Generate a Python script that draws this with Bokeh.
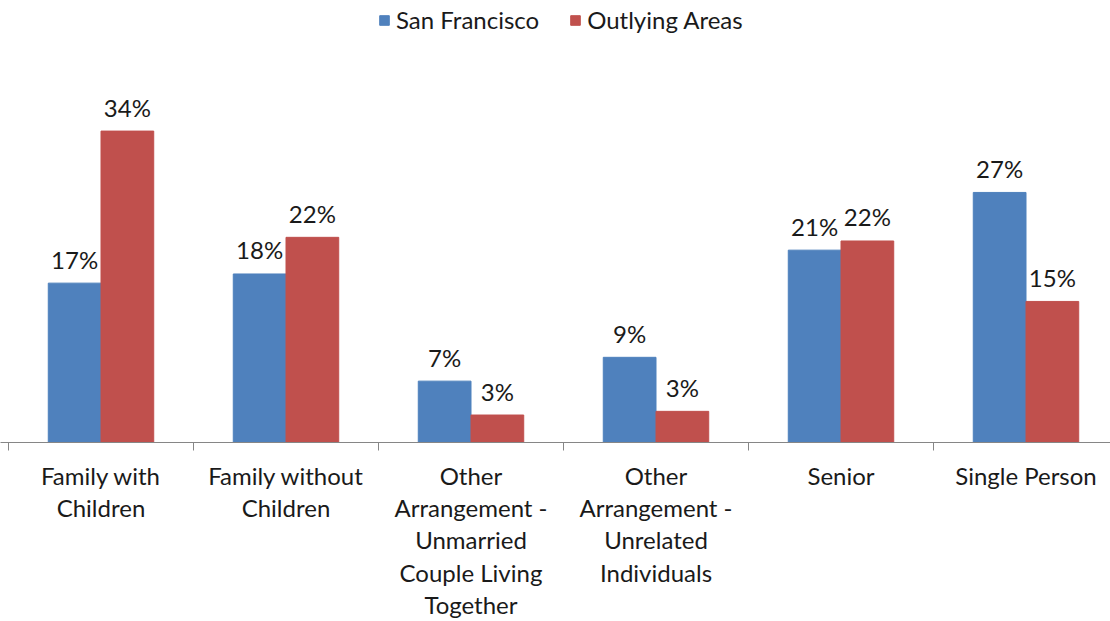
from bokeh.plotting import figure
from bokeh.models import ColumnDataSource, Range1d, FixedTicker, Legend, LegendItem
from bokeh.core.properties import value
from bokeh.embed import file_html
from bokeh.resources import INLINE

# ---- data ----
categories = [
    "Family with\nChildren",
    "Family without\nChildren",
    "Other\nArrangement -\nUnmarried\nCouple Living\nTogether",
    "Other\nArrangement -\nUnrelated\nIndividuals",
    "Senior",
    "Single Person",
]
san_francisco = [17.4, 18.4, 6.7, 9.3, 21.0, 27.3]
outlying_areas = [34.0, 22.4, 3.0, 3.4, 22.0, 15.4]
series_names = ["San Francisco", "Outlying Areas"]
series_colors = ["#4F81BD", "#C0504D"]

FONT = "Lato"
TEXT_COLOR = "#1a1a1a"

W, H = 1110, 621
CAT_PX = 185.0
LEFT_PX = 8.0
PX_PER_UNIT = 9.18
BOTTOM = 178

n = len(categories)
centers = [i + 0.5 for i in range(n)]
bar_w = 0.285

p = figure(
    width=W, height=H, output_backend="svg", toolbar_location=None,
    x_range=Range1d(-LEFT_PX / CAT_PX, (W - LEFT_PX) / CAT_PX),
    y_range=Range1d(0, (H - BOTTOM) / PX_PER_UNIT),
    min_border=0, min_border_bottom=BOTTOM,
    y_axis_location=None, outline_line_color=None,
)
p.xgrid.visible = False
p.ygrid.visible = False
p.background_fill_color = "white"
p.border_fill_color = "white"

renderers = []
for k, (vals, name, col) in enumerate(zip([san_francisco, outlying_areas], series_names, series_colors)):
    off = (-0.5 + k) * bar_w
    src = ColumnDataSource(dict(
        x=[c + off for c in centers],
        top=vals,
        label=[f"{round(v)}%" for v in vals],
    ))
    r = p.vbar(x="x", top="top", bottom=0, width=bar_w, source=src,
               fill_color=col, line_color=col, line_width=1)
    renderers.append(r)
    p.text(x="x", y="top", text="label", source=src,
           text_font=value(FONT), text_font_size="24px", text_color=TEXT_COLOR,
           text_align="center", text_baseline="alphabetic", y_offset=-24)

ax = p.xaxis[0]
ax.ticker = FixedTicker(ticks=centers, minor_ticks=list(range(n + 1)))
ax.major_label_overrides = {c: lab for c, lab in zip(centers, categories)}
ax.major_tick_out = 0
ax.major_tick_in = 0
ax.minor_tick_out = 8
ax.minor_tick_in = 0
ax.minor_tick_line_color = "#868686"
ax.axis_line_color = "#868686"
ax.axis_line_width = 1
ax.major_label_standoff = 10
ax.major_label_text_font = FONT
ax.major_label_text_font_size = "24px"
ax.major_label_text_color = TEXT_COLOR
ax.major_label_text_line_height = 1.115

legend = Legend(
    items=[LegendItem(label=nm, renderers=[r]) for nm, r in zip(series_names, renderers)],
    orientation="horizontal", location=(378, 408),
    glyph_width=12, glyph_height=12, label_standoff=6, spacing=30,
    padding=0, margin=0, border_line_color=None, background_fill_alpha=0,
    label_text_font=FONT, label_text_font_size="24px", label_text_color=TEXT_COLOR,
)
p.add_layout(legend)

open("out.html", "w").write(file_html(p, INLINE))
